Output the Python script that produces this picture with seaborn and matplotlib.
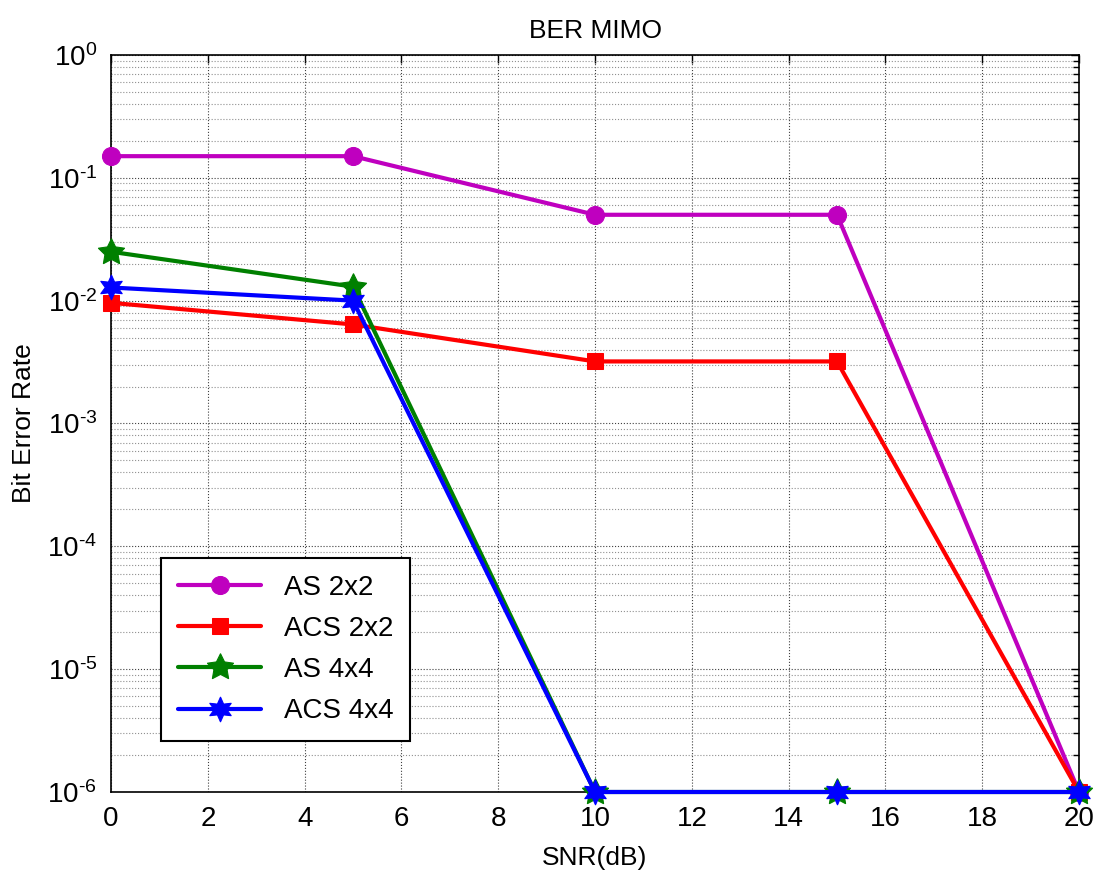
import numpy as np
import pandas as pd
import matplotlib
matplotlib.use("Agg")
import matplotlib.pyplot as plt
import seaborn as sns
from matplotlib.ticker import LogLocator, NullFormatter, FuncFormatter, FixedLocator

snr = [0, 5, 10, 15, 20]
as_2x2 = [0.15, 0.15, 0.05, 0.05, 1e-6]
acs_2x2 = [0.0096, 0.0064, 0.0032, 0.0032, 1e-6]
as_4x4 = [0.025, 0.013, 1e-6, 1e-6, 1e-6]
acs_4x4 = [0.0128, 0.0100, 1e-6, 1e-6, 1e-6]

labels = ["AS 2x2", "ACS 2x2", "AS 4x4", "ACS 4x4"]
series = [as_2x2, acs_2x2, as_4x4, acs_4x4]
colors = ["#bf00bf", "#ff0000", "#008000", "#0000ff"]
markers = ["o", "s", (5, 1, 0), (6, 1, 0)]
msizes = [13, 12, 20, 18]
y_decades = [-6, -5, -4, -3, -2, -1, 0]

sns.set_style("white")
plt.rcParams["font.family"] = ["Liberation Sans", "DejaVu Sans"]
plt.rcParams["mathtext.fontset"] = "custom"
plt.rcParams["mathtext.rm"] = "Liberation Sans"
for k in ["text.color", "axes.labelcolor", "xtick.color", "ytick.color"]:
    plt.rcParams[k] = "black"

fig = plt.figure(figsize=(10.95, 8.71), dpi=100)
ax = fig.add_axes([0.1014, 0.0907, 0.8840, 0.8462])

for lab, vals, c, m, ms in zip(labels, series, colors, markers, msizes):
    df = pd.DataFrame({"snr": snr, "ber": vals})
    sns.lineplot(data=df, x="snr", y="ber", ax=ax, color=c, marker=m,
                 markersize=ms, markeredgecolor=c, linewidth=3,
                 label=lab, clip_on=False, zorder=5)

ax.set_yscale("log")
ax.set_xlim(0, 20)
ax.set_ylim(1e-6, 1)
ax.set_xticks(np.arange(0, 21, 2))
ax.yaxis.set_major_locator(FixedLocator([10.0 ** d for d in y_decades]))
ax.yaxis.set_major_formatter(FuncFormatter(
    lambda v, p: r"$\mathdefault{10^{\text{%d}}}$" % int(round(np.log10(v)))))
ax.yaxis.set_minor_locator(LogLocator(base=10, subs=np.arange(2, 10), numticks=100))
ax.yaxis.set_minor_formatter(NullFormatter())

ax.grid(True, which="major", linestyle=":", color="#404040", linewidth=0.8)
ax.grid(True, which="minor", axis="y", linestyle=":", color="#909090", linewidth=0.8)
ax.tick_params(which="both", direction="in", top=True, right=True, labelsize=20)
ax.tick_params(which="major", length=6, width=1)
ax.tick_params(which="minor", length=4, width=1)
ax.tick_params(axis="x", pad=10)
ax.tick_params(axis="y", pad=10)
for s in ax.spines.values():
    s.set_color("black")
    s.set_linewidth(1.2)

ax.set_title("BER MIMO", fontsize=19, pad=12)
ax.set_xlabel("SNR(dB)", fontsize=19, labelpad=10)
ax.set_ylabel("Bit Error Rate", fontsize=19, labelpad=8)

leg = ax.legend(loc="lower left", bbox_to_anchor=(0.052, 0.069), fontsize=20,
                frameon=True, fancybox=False, edgecolor="black", framealpha=1,
                handlelength=3.0, borderpad=0.6, labelspacing=0.55,
                borderaxespad=0)
leg.get_frame().set_linewidth(1.5)

fig.savefig("out.png", dpi=100)
